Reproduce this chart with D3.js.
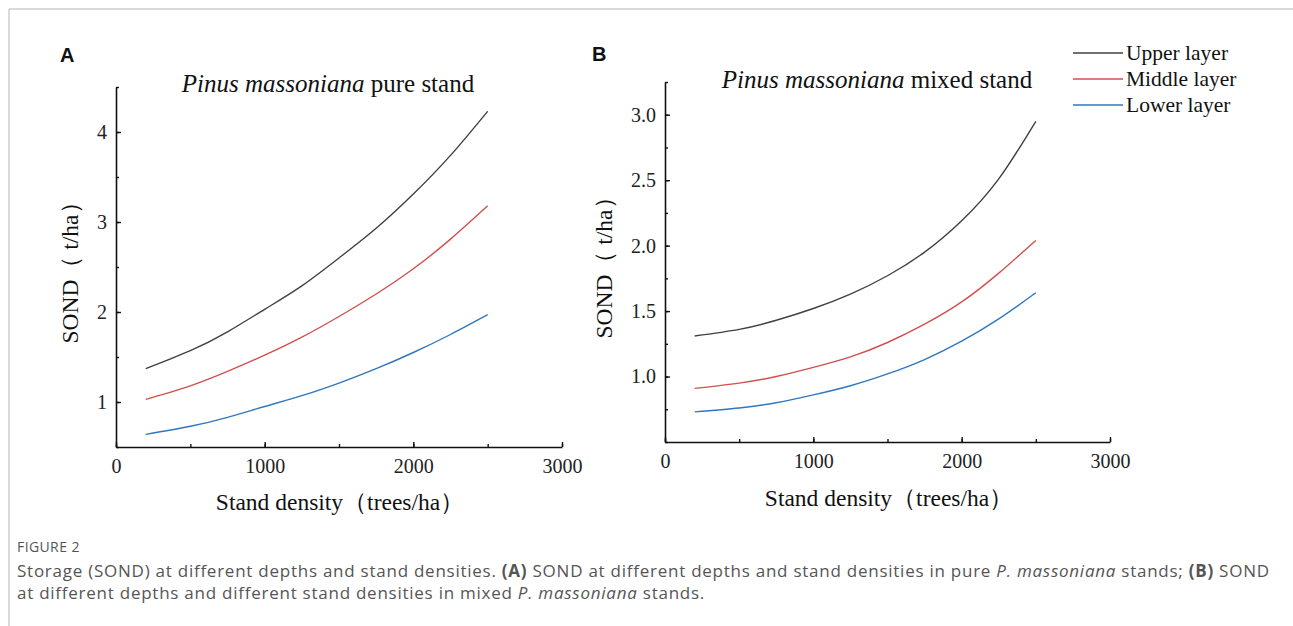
<!DOCTYPE html>
<html>
<head>
<meta charset="utf-8">
<script src="https://cdn.jsdelivr.net/npm/d3@7"></script>
<style>
  body { margin: 0; background: #fff; }
  svg { display: block; }
</style>
</head>
<body>
<script>
// densities (trees/ha)
var densities = [200, 500, 750, 1000, 1250, 1500, 1750, 2000, 2250, 2500];

// panel A - pure stand, SOND (t/ha)
var pureUpper  = [1.37, 1.57, 1.78, 2.03, 2.29, 2.60, 2.93, 3.31, 3.74, 4.23];
var pureMiddle = [1.03, 1.18, 1.34, 1.52, 1.72, 1.95, 2.20, 2.48, 2.81, 3.18];
var pureLower  = [0.64, 0.73, 0.83, 0.95, 1.07, 1.21, 1.37, 1.55, 1.75, 1.97];

// panel B - mixed stand
var mixedUpper  = [1.31, 1.36, 1.43, 1.52, 1.63, 1.77, 1.95, 2.19, 2.51, 2.95];
var mixedMiddle = [0.91, 0.95, 1.00, 1.07, 1.15, 1.26, 1.40, 1.57, 1.79, 2.04];
var mixedLower  = [0.73, 0.76, 0.80, 0.86, 0.93, 1.02, 1.13, 1.27, 1.44, 1.64];

var layerNames = ["Upper layer", "Middle layer", "Lower layer"];
var layerColors = ["#404040", "#d0504f", "#2f78bd"];

var xTicks = [0, 1000, 2000, 3000];
var xMinor = [0, 500, 1000, 1500, 2000, 2500, 3000];
var pureTicks = [1, 2, 3, 4];
var pureMinor = [0.5, 1, 1.5, 2, 2.5, 3, 3.5, 4, 4.5];
var mixedTicks = [1.0, 1.5, 2.0, 2.5, 3.0];
var mixedMinor = [0.5, 0.75, 1, 1.25, 1.5, 1.75, 2, 2.25, 2.5, 2.75, 3, 3.25];

var width = 1293, height = 626;
var serif = "'Liberation Serif', 'Times New Roman', serif";

var svg = d3.select("body").append("svg")
    .attr("width", width).attr("height", height);

// figure frame (top and left rules)
svg.append("line").attr("x1", 9).attr("y1", 9).attr("x2", width).attr("y2", 9)
    .attr("stroke", "#b5b5b5").attr("stroke-width", 1);
svg.append("line").attr("x1", 9).attr("y1", 9).attr("x2", 9).attr("y2", height)
    .attr("stroke", "#b5b5b5").attr("stroke-width", 1);

var panels = [
  {letter: "A", lx: 60, ly: 62, x0: 116, x1: 562, yTop: 87, yBot: 447,
   yDomain: [0.5, 4.5], ticks: pureTicks, minor: pureMinor, fmt: d3.format("d"),
   series: [pureUpper, pureMiddle, pureLower],
   species: "Pinus massoniana", kind: " pure stand", tx: 328, ty: 92,
   ytx: 78, xtx: 340, xty: 510},
  {letter: "B", lx: 592, ly: 61, x0: 665, x1: 1110, yTop: 82, yBot: 442,
   yDomain: [0.5, 3.25], ticks: mixedTicks, minor: mixedMinor, fmt: d3.format(".1f"),
   series: [mixedUpper, mixedMiddle, mixedLower],
   species: "Pinus massoniana", kind: " mixed stand", tx: 877, ty: 88,
   ytx: 612, xtx: 889, xty: 506}
];

panels.forEach(function(p){
  var x = d3.scaleLinear().domain([0, 3000]).range([p.x0, p.x1]);
  var y = d3.scaleLinear().domain(p.yDomain).range([p.yBot, p.yTop]);

  var g = svg.append("g");

  // minor ticks first, then the labelled axes on top
  g.append("g").attr("transform", "translate(0," + p.yBot + ")")
    .call(d3.axisBottom(x).tickValues(xMinor).tickSizeInner(-3).tickSizeOuter(0).tickFormat(""))
    .call(function(a){ a.select(".domain").remove(); });
  g.append("g").attr("transform", "translate(" + p.x0 + ",0)")
    .call(d3.axisLeft(y).tickValues(p.minor).tickSizeInner(-3).tickSizeOuter(0).tickFormat(""))
    .call(function(a){ a.select(".domain").remove(); });

  g.append("g").attr("class", "axis x")
    .attr("transform", "translate(0," + p.yBot + ")")
    .call(d3.axisBottom(x).tickValues(xTicks).tickFormat(d3.format("d"))
      .tickSizeInner(-5).tickSizeOuter(0).tickPadding(12));
  g.append("g").attr("class", "axis y")
    .attr("transform", "translate(" + p.x0 + ",0)")
    .call(d3.axisLeft(y).tickValues(p.ticks).tickFormat(p.fmt)
      .tickSizeInner(-5).tickSizeOuter(0).tickPadding(9));

  g.selectAll(".tick line").attr("stroke", "#111").attr("stroke-width", 1.4);
  g.selectAll(".domain").attr("stroke", "#111").attr("stroke-width", 1.6);
  g.selectAll(".tick text").attr("font-family", serif).attr("font-size", 20).attr("fill", "#222");

  // curves
  var line = d3.line()
    .x(function(d, i){ return x(densities[i]); })
    .y(function(d){ return y(d); })
    .curve(d3.curveNatural);
  p.series.forEach(function(s, k){
    g.append("path").attr("d", line(s))
      .attr("fill", "none").attr("stroke", layerColors[k]).attr("stroke-width", 1.4);
  });

  // panel letter
  svg.append("text").attr("x", p.lx).attr("y", p.ly)
    .attr("font-family", "'Liberation Sans', Arial, sans-serif").attr("font-weight", "bold")
    .attr("font-size", 20).attr("fill", "#111").text(p.letter);

  // title
  var t = svg.append("text").attr("x", p.tx).attr("y", p.ty)
    .attr("text-anchor", "middle").attr("font-family", serif)
    .attr("font-size", 25).attr("fill", "#111");
  t.append("tspan").attr("font-style", "italic").text(p.species);
  t.append("tspan").text(p.kind);

  // axis titles
  svg.append("text").attr("x", p.xtx).attr("y", p.xty)
    .attr("text-anchor", "middle").attr("font-family", serif)
    .attr("font-size", 23.5).attr("fill", "#111")
    .text("Stand density（trees/ha）");
  svg.append("text")
    .attr("transform", "translate(" + p.ytx + "," + ((p.yTop + p.yBot) / 2) + ") rotate(-90)")
    .attr("text-anchor", "middle").attr("font-family", serif)
    .attr("font-size", 23.5).attr("fill", "#111")
    .text("SOND（ t/ha）");
});

// legend
var legend = svg.append("g").attr("transform", "translate(1073,53)");
layerNames.forEach(function(name, i){
  var row = legend.append("g").attr("transform", "translate(0," + (i * 26) + ")");
  row.append("line").attr("x1", 0).attr("x2", 50).attr("y1", 0).attr("y2", 0)
    .attr("stroke", layerColors[i]).attr("stroke-width", 1.4);
  row.append("text").attr("x", 53).attr("y", 7)
    .attr("font-family", serif).attr("font-size", 21.5).attr("fill", "#111").text(name);
});

// caption
var cap = "'Open Sans', 'Noto Sans', sans-serif";
svg.append("text").attr("x", 17).attr("y", 552)
  .attr("font-family", cap).attr("font-size", 14).attr("letter-spacing", 0.4)
  .attr("fill", "#555").text("FIGURE 2");

var l1 = svg.append("text").attr("x", 17).attr("y", 577)
  .attr("font-family", cap).attr("font-size", 17).attr("letter-spacing", 0.75)
  .attr("fill", "#555");
l1.append("tspan").text("Storage (SOND) at different depths and stand densities. ");
l1.append("tspan").attr("font-weight", "bold").text("(A)");
l1.append("tspan").text(" SOND at different depths and stand densities in pure ");
l1.append("tspan").attr("font-style", "italic").text("P. massoniana");
l1.append("tspan").text(" stands; ");
l1.append("tspan").attr("font-weight", "bold").text("(B)");
l1.append("tspan").text(" SOND");

var l2 = svg.append("text").attr("x", 17).attr("y", 599)
  .attr("font-family", cap).attr("font-size", 17).attr("letter-spacing", 0.75)
  .attr("fill", "#555");
l2.append("tspan").text("at different depths and different stand densities in mixed ");
l2.append("tspan").attr("font-style", "italic").text("P. massoniana");
l2.append("tspan").text(" stands.");
</script>
</body>
</html>
